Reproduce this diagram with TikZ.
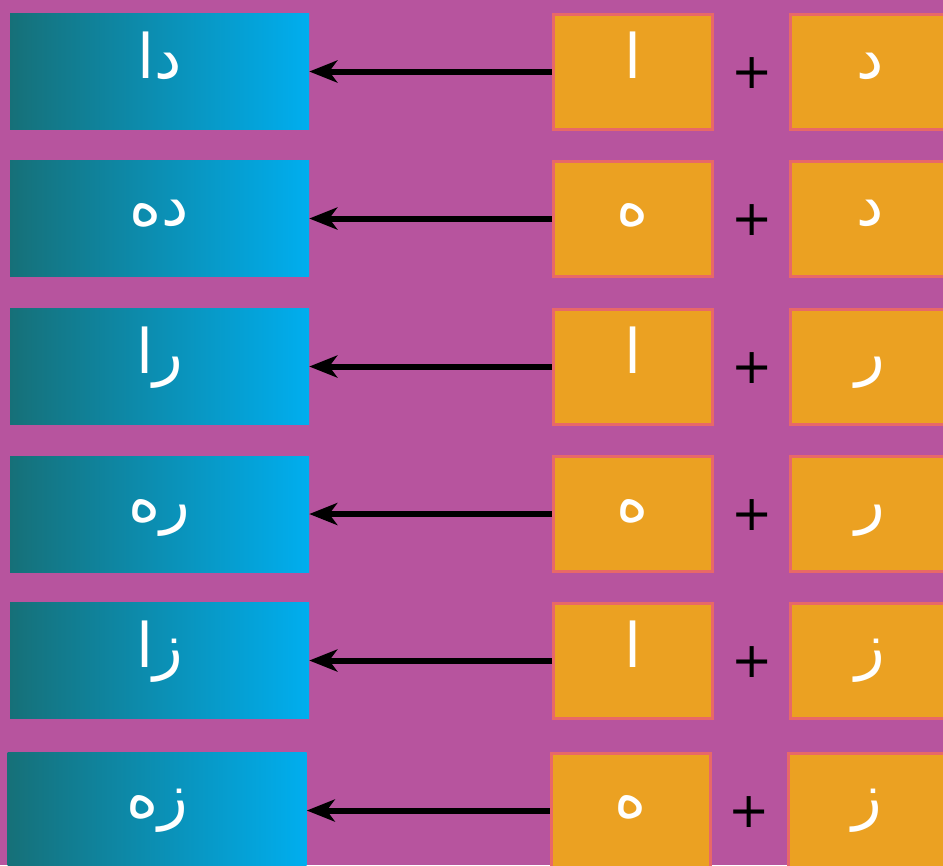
\documentclass[tikz,border=0pt]{standalone}
\usepackage{fontspec}
\usepackage{tikz}
\usetikzlibrary{arrows.meta}
\TeXXeTstate=1
\newfontfamily\arabicfont[Script=Arabic]{DejaVu Sans}
\newfontfamily\plusfont{DejaVu Sans}
\definecolor{bgmagenta}{RGB}{183,84,158}
\definecolor{wordleft}{RGB}{22,112,120}
\definecolor{wordmid}{RGB}{0,130,155}
\definecolor{wordright}{RGB}{0,174,239}
\definecolor{letterfill}{RGB}{235,161,34}
\definecolor{letteredge}{RGB}{232,104,104}

\begin{document}
\begin{tikzpicture}[x=0.75pt,y=0.75pt,yscale=-1,xscale=1]
  \tikzstyle{arrow} = [line width=4.5pt,-{Stealth[length=21pt,width=16.5pt,inset=6pt]}]
  \tikzstyle{wordbox} = [rectangle,inner sep=0pt,left color=wordleft,middle color=wordmid,right color=wordright,
    minimum width=224.25pt,minimum height=87pt,text=white,
    font=\arabicfont\fontsize{46}{46}\selectfont,text height=11pt,text depth=0pt]
  \tikzstyle{letterbox} = [rectangle,inner sep=0pt,fill=letterfill,draw=letteredge,line width=2.25pt,
    minimum width=119.25pt,minimum height=86.25pt,text=white,
    font=\arabicfont\fontsize{46}{46}\selectfont,text height=11pt,text depth=0pt]
  \tikzstyle{plussign} = [inner sep=0pt,font=\plusfont\fontsize{37}{37}\selectfont]
  %Draw the background
  \fill[bgmagenta] (0,0) rectangle (943,865);
  \useasboundingbox (0,0) rectangle (943,865);
  %Draw the rows: word <- vowel + consonant
  \foreach \y/\dx/\word/\vowel/\cons [count=\i] in
    {71.5/0/دا/ا/د, 218.5/0/ده/ه/د, 366.5/0/را/ا/ر,
     514/0/ره/ه/ر, 660.5/0/زا/ا/ز, 810.5/-2.5/زه/ه/ز}{
    \node[wordbox] (word\i) at (159.5+\dx,\y) {\beginR\word\endR};
    \node[letterbox] (vowel\i) at (633+\dx,\y) {\beginR\vowel\endR};
    \node[letterbox] (cons\i) at (870+\dx,\y) {\beginR\cons\endR};
    \node[plussign] (plus\i) at (752+\dx,\y+1.5) {+};
    % Draw the arrows
    \draw [arrow] (vowel\i.west) -- (word\i.east);
  }
\end{tikzpicture}
\end{document}
